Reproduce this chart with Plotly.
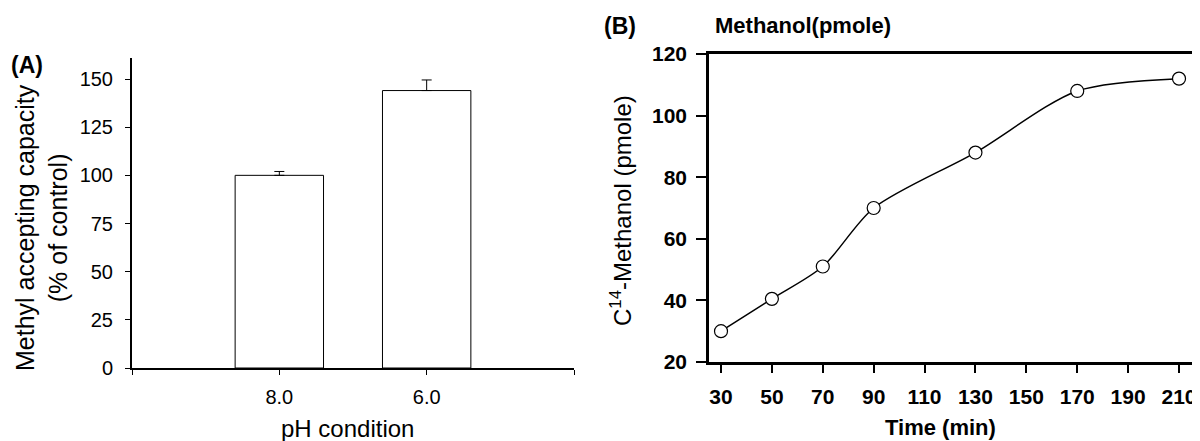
import plotly.graph_objects as go

# ---------------- data ----------------
ph_categories = ["8.0", "6.0"]
capacity_pct = [100, 144]
capacity_err = [2, 5.5]

time_min = [30, 50, 70, 90, 130, 170, 210]
methanol_pmole = [30, 40.5, 51, 70, 88, 108, 112]
time_ticks = [30, 50, 70, 90, 110, 130, 150, 170, 190, 210]
methanol_ticks = [20, 40, 60, 80, 100, 120]
capacity_ticks = [0, 25, 50, 75, 100, 125, 150]

# page body has an 8px default margin; figure sized to fit the viewport
OFF = 8
W, H = 1200 - OFF, 441 - OFF
FONT = "Liberation Sans, Arial, Helvetica, sans-serif"


def px(x):
    return (x - OFF) / W


def py(y):
    return 1 - (y - OFF) / H


fig = go.Figure()

# Panel A: bars
xpos = list(range(len(ph_categories)))
fig.add_trace(go.Bar(
    x=xpos, y=capacity_pct, width=0.6,
    marker=dict(color="white", line=dict(color="black", width=1)),
    error_y=dict(type="data", symmetric=False, array=capacity_err,
                 arrayminus=[0] * len(capacity_err),
                 color="black", thickness=1, width=5),
    xaxis="x", yaxis="y", showlegend=False,
))

# Panel B: line
fig.add_trace(go.Scatter(
    x=time_min, y=methanol_pmole, mode="lines+markers",
    line=dict(color="black", width=1.5, shape="spline", smoothing=0.8),
    marker=dict(symbol="circle", size=13, color="white",
                line=dict(color="black", width=1.2)),
    xaxis="x2", yaxis="y2", showlegend=False,
))

fig.update_layout(
    width=W, height=H,
    margin=dict(l=0, r=0, t=0, b=0, pad=0),
    paper_bgcolor="white", plot_bgcolor="white",
    font=dict(family=FONT, color="black"),
    xaxis=dict(
        domain=[px(132), px(574)], range=[-1, 2],
        tickmode="array", tickvals=xpos, ticktext=ph_categories,
        minor=dict(tickmode="array", tickvals=[-1, len(ph_categories)],
                   ticks="outside", ticklen=5, tickwidth=1, tickcolor="black",
                   showgrid=False),
        showline=True, linecolor="black", linewidth=2,
        ticks="outside", ticklen=5, tickwidth=1, tickcolor="black",
        showgrid=False, zeroline=False, automargin=False,
        tickfont=dict(size=20, family=FONT),
        ticklabelstandoff=5,
        anchor="y",
    ),
    yaxis=dict(
        domain=[py(368), py(58)], range=[0, 160.9],
        tickmode="array", tickvals=capacity_ticks,
        showline=True, linecolor="black", linewidth=2,
        ticks="outside", ticklen=5, tickwidth=1, tickcolor="black",
        showgrid=False, zeroline=False, automargin=False,
        tickfont=dict(size=20, family=FONT),
        ticklabelstandoff=8,
        anchor="x",
    ),
    xaxis2=dict(
        domain=[px(709), 1.0], range=[25.28, 218.25],
        tickmode="array", tickvals=time_ticks,
        showline=True, linecolor="black", linewidth=2.5, mirror=True,
        ticks="outside", ticklen=8, tickwidth=1.5, tickcolor="black",
        showgrid=False, zeroline=False, automargin=False,
        tickfont=dict(size=21, family=FONT, weight="bold"),
        ticklabelstandoff=6,
        anchor="y2",
    ),
    yaxis2=dict(
        domain=[py(362), py(54)], range=[20, 120],
        tickmode="array", tickvals=methanol_ticks,
        showline=True, linecolor="black", linewidth=2.5,
        ticks="outside", ticklen=10, tickwidth=1.5, tickcolor="black",
        showgrid=False, zeroline=False, automargin=False,
        tickfont=dict(size=21, family=FONT, weight="bold"),
        ticklabelstandoff=5,
        anchor="x2",
    ),
)

ann = [
    dict(text="<b>(A)</b>", x=px(27), y=py(65), font=dict(size=23)),
    dict(text="<b>(B)</b>", x=px(620), y=py(26), font=dict(size=23)),
    dict(text="<b>Methanol(pmole)</b>", x=px(713), y=py(26), xanchor="left",
         font=dict(size=22)),
    dict(text="Methyl accepting capacity<br>(% of control)", x=px(41), y=py(228),
         textangle=-90, font=dict(size=25)),
    dict(text="pH condition", x=px(347), y=py(428), font=dict(size=24)),
    dict(text="C<sup>14</sup>-Methanol (pmole)", x=px(621), y=py(211),
         textangle=-90, font=dict(size=24)),
    dict(text="<b>Time (min)</b>", x=px(940), y=py(427), font=dict(size=22)),
]
for a in ann:
    a.setdefault("xanchor", "center")
    a.update(xref="paper", yref="paper", yanchor="middle", showarrow=False)
    a["font"].update(family=FONT, color="black")
fig.update_layout(annotations=ann)

fig.write_html("out.html")
